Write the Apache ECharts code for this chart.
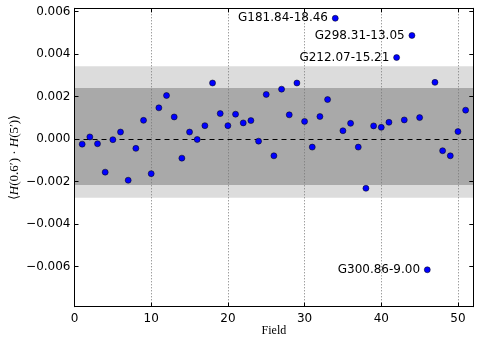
<!DOCTYPE html>
<html>
<head>
<meta charset="utf-8">
<script src="https://cdn.jsdelivr.net/npm/echarts@6/dist/echarts.min.js"></script>
<style>
  html, body { margin: 0; padding: 0; background: #fff; }
  #main { width: 480px; height: 345px; }
</style>
</head>
<body>
<div id="main"></div>
<script>
    // field numbers and measured correlation values
    var fields = [1, 2, 3, 4, 5, 6, 7, 8, 9, 10, 11, 12, 13, 14, 15, 16, 17, 18, 19, 20,
        21, 22, 23, 24, 25, 26, 27, 28, 29, 30, 31, 32, 33, 34, 35, 36, 37, 38, 39, 40,
        41, 42, 43, 44, 45, 46, 47, 48, 49, 50, 51];
    var values = [-0.00024, 0.0001, -0.00022, -0.00156, -0.00003, 0.00033, -0.00194, -0.00044, 0.00088, -0.00163,
        0.00147, 0.00205, 0.00104, -0.0009, 0.00033, -0.00002, 0.00063, 0.00264, 0.0012, 0.00063,
        0.00117, 0.00076, 0.00087, -0.0001, 0.0021, -0.00079, 0.00235, 0.00114, 0.00264, 0.00083,
        -0.00038, 0.00106, 0.00186, 0.00569, 0.00039, 0.00074, -0.00038, -0.00232, 0.00062, 0.00055,
        0.00079, 0.00384, 0.0009, 0.00488, 0.00101, -0.00616, 0.00267, -0.00055, -0.00079, 0.00035,
        0.00136];

    // named outliers
    var outlierFields = [34, 44, 42, 46];
    var outlierNames = ['G181.84-18.46', 'G298.31-13.05', 'G212.07-15.21', 'G300.86-9.00'];

    var meanValue = 0.00012;
    var innerBand = [-0.00216, 0.0024];
    var outerBand = [-0.00277, 0.00343];

    var yTicks = [-0.006, -0.004, -0.002, 0, 0.002, 0.004, 0.006];

    var font = 'DejaVu Sans';

    function fmtY(v) {
        var s = Math.abs(v).toFixed(3);
        return (v < -1e-9 ? '\u2212' : '') + s;
    }

    var pts = [];
    for (var i = 0; i < fields.length; i++) {
        var item = { value: [fields[i], values[i]] };
        var k = outlierFields.indexOf(fields[i]);
        if (k >= 0) {
            item.label = {
                show: true,
                position: 'left',
                distance: 4,
                formatter: outlierNames[k],
                color: '#000',
                fontFamily: font,
                fontSize: 12
            };
        }
        pts.push(item);
    }

    var tickStyle = { show: true, inside: true, length: 4, lineStyle: { color: '#000', width: 1 } };

    var option = {
        animation: false,
        backgroundColor: '#fff',
        grid: { left: 74.5, right: 6.7, top: 8.3, bottom: 38.3, containLabel: false, outerBoundsMode: 'none' },
        xAxis: [{
            type: 'value', min: 0, max: 52, interval: 10, z: 3,
            name: 'Field', nameLocation: 'middle', nameGap: 18, nameMoveOverlap: false,
            nameTextStyle: { fontFamily: 'Liberation Serif', fontSize: 12, color: '#000' },
            axisLine: { show: true, onZero: false, lineStyle: { color: '#000', width: 1 } },
            axisTick: tickStyle,
            axisLabel: { color: '#000', fontFamily: font, fontSize: 12, showMaxLabel: false, margin: 6 },
            splitLine: { show: true, lineStyle: { color: '#777', type: [1, 2], width: 1 } }
        }, {
            type: 'value', min: 0, max: 52, interval: 10, position: 'top', z: 3,
            axisLine: { show: true, onZero: false, lineStyle: { color: '#000', width: 1 } },
            axisTick: tickStyle,
            axisLabel: { show: false },
            splitLine: { show: false }
        }],
        yAxis: [{
            type: 'value', min: -0.0079, max: 0.00616, z: 3,
            name: '{b|\u27E8}{i|H}{b|(0.6\u2032) \u00B7 }{i|H}{b|(5\u2032)\u27E9}',
            nameLocation: 'middle', nameRotate: 90, nameGap: 53, nameMoveOverlap: false,
            nameTextStyle: {
                align: 'center', verticalAlign: 'bottom',
                rich: {
                    b: { fontFamily: 'Liberation Serif', fontSize: 13, color: '#000' },
                    i: { fontFamily: 'Liberation Serif', fontStyle: 'italic', fontSize: 13, color: '#000' }
                }
            },
            axisLine: { show: true, onZero: false, lineStyle: { color: '#000', width: 1 } },
            axisTick: { show: true, inside: true, length: 4, customValues: yTicks, lineStyle: { color: '#000', width: 1 } },
            axisLabel: { color: '#000', fontFamily: font, fontSize: 12, customValues: yTicks, formatter: fmtY, margin: 4 },
            splitLine: { show: false }
        }, {
            type: 'value', min: -0.0079, max: 0.00616, position: 'right', z: 3,
            axisLine: { show: true, onZero: false, lineStyle: { color: '#000', width: 1 } },
            axisTick: { show: true, inside: true, length: 4, customValues: yTicks, lineStyle: { color: '#000', width: 1 } },
            axisLabel: { show: false },
            splitLine: { show: false }
        }],
        series: [{
            type: 'scatter', data: [], z: 1, silent: true,
            markArea: {
                silent: true,
                data: [
                    [{ yAxis: outerBand[0], itemStyle: { color: '#dcdcdc' } }, { yAxis: outerBand[1] }],
                    [{ yAxis: innerBand[0], itemStyle: { color: '#a9a9a9' } }, { yAxis: innerBand[1] }]
                ]
            }
        }, {
            type: 'scatter', data: [], z: 4, silent: true,
            markLine: {
                silent: true, symbol: 'none', label: { show: false },
                lineStyle: { color: '#000', type: [5, 4], width: 1 },
                data: [{ yAxis: meanValue }]
            }
        }, {
            type: 'scatter', z: 5,
            symbolSize: 6,
            itemStyle: { color: '#0000ff', borderColor: '#000', borderWidth: 0.5, opacity: 1 },
            data: pts
        }]
    };

    echarts.init(document.getElementById('main')).setOption(option);
</script>
</body>
</html>
